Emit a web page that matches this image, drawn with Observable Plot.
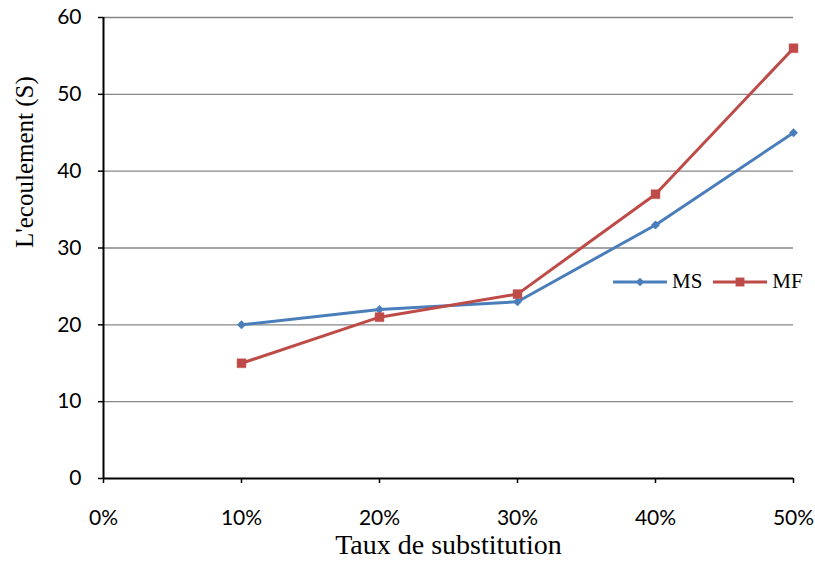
<!DOCTYPE html>
<html>
<head>
<meta charset="utf-8">
<script src="https://cdn.jsdelivr.net/npm/d3@7"></script>
<script src="https://cdn.jsdelivr.net/npm/@observablehq/plot@0.6"></script>
<style>
  body { margin: 0; background: #fff; }
  #wrap { position: relative; width: 815px; height: 567px; }
  #legend { position: absolute; left: 612px; top: 269px; display: flex; align-items: center;
            font-family: "Liberation Serif", "Times New Roman", serif; font-size: 21px; color: #000; }
  #legend .item { display: flex; align-items: center; margin-right: 10px; }
  #legend svg { margin-right: 4px; }
</style>
</head>
<body>
<div id="wrap"><div id="legend"></div></div>
<script>
// Substitution rates and flow times for the two mixes
const taux = [0.10, 0.20, 0.30, 0.40, 0.50];
const ms = [20, 22, 23, 33, 45];
const mf = [15, 21, 24, 37, 56];
const xTicks = [0, 0.1, 0.2, 0.3, 0.4, 0.5];
const yTicks = [0, 10, 20, 30, 40, 50, 60];
const series = [
  {name: "MS", values: ms, color: "#4a7ebb", symbol: "diamond2", r: 3.8},
  {name: "MF", values: mf, color: "#be4b48", symbol: "square", r: 5}
];
const rows = series.flatMap(s => taux.map((t, i) => ({serie: s.name, taux: t, s: s.values[i]})));

const tickFont = "Lato, 'Open Sans', sans-serif";
const titleFont = "'Liberation Serif', 'Times New Roman', serif";

const chart = Plot.plot({
  width: 815,
  height: 567,
  marginLeft: 103,
  marginRight: 22,
  marginTop: 17,
  marginBottom: 89,
  style: {fontFamily: tickFont, fontSize: "21px", color: "#000", background: "#fff"},
  x: {domain: [0, 0.5]},
  y: {domain: [0, 60]},
  marks: [
    Plot.gridY(yTicks.filter(d => d > 0), {stroke: "#868686", strokeWidth: 1.4, strokeOpacity: 1}),
    Plot.axisY(yTicks, {tickSize: 5, tickPadding: 17, label: null, fontSize: 21, fontFamily: tickFont, stroke: "#000", strokeWidth: 1.5}),
    Plot.axisX(xTicks, {tickSize: 5, tickPadding: 27, label: null, tickFormat: d3.format(".0%"), fontSize: 21, fontFamily: tickFont, stroke: "#000", strokeWidth: 1.5}),
    Plot.ruleX([0], {stroke: "#000", strokeWidth: 2}),
    Plot.ruleY([0], {stroke: "#000", strokeWidth: 2}),
    ...series.map(s => Plot.line(rows.filter(d => d.serie === s.name), {x: "taux", y: "s", stroke: s.color, strokeWidth: 3})),
    ...series.map(s => Plot.dot(rows.filter(d => d.serie === s.name), {x: "taux", y: "s", symbol: s.symbol, r: s.r, fill: s.color, stroke: s.color, strokeWidth: 0.5})),
    Plot.text(["Taux de substitution"], {frameAnchor: "bottom", dy: 75, fontFamily: titleFont, fontSize: 28, fill: "#000"}),
    Plot.text(["L'ecoulement (S)"], {frameAnchor: "left", rotate: -90, dx: -79, fontFamily: titleFont, fontSize: 25, fill: "#000"})
  ]
});
document.getElementById("wrap").prepend(chart);

// Legend built from the same series list
const legend = d3.select("#legend");
series.forEach(s => {
  const item = legend.append("div").attr("class", "item");
  const svg = item.append("svg").attr("width", 56).attr("height", 14);
  svg.append("line").attr("x1", 1).attr("x2", 55).attr("y1", 7).attr("y2", 7)
    .attr("stroke", s.color).attr("stroke-width", 3);
  const sym = s.symbol === "square" ? d3.symbolSquare : d3.symbolDiamond2;
  svg.append("path").attr("transform", "translate(28,7)")
    .attr("d", d3.symbol(sym, Math.PI * s.r * s.r)()).attr("fill", s.color);
  item.append("span").text(s.name);
});
</script>
</body>
</html>
